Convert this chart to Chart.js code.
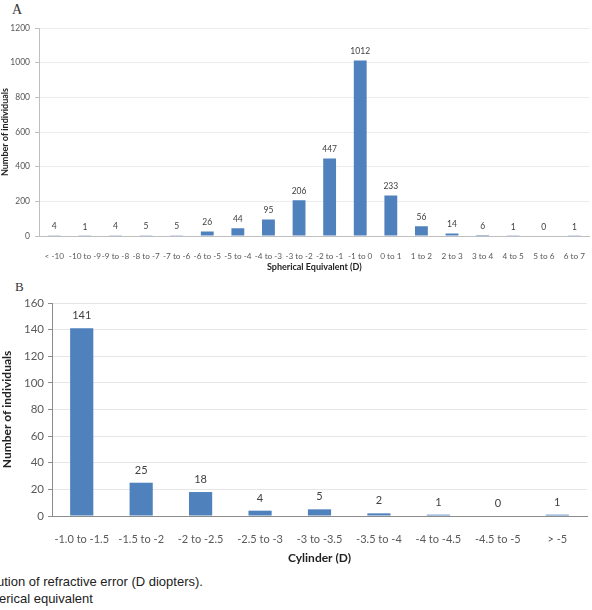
<!DOCTYPE html>
<html>
<head>
<meta charset="utf-8">
<script src="https://cdn.jsdelivr.net/npm/chart.js@4.4.1/dist/chart.umd.min.js"></script>
<style>
  body { margin: 0; background: #fff; width: 592px; height: 610px; overflow: hidden; position: relative; }
  .panel { position: absolute; left: 0; }
  .letter { position: absolute; font-family: "Liberation Serif", "DejaVu Serif", serif; color: #333; }
  .caption { position: absolute; left: -3px; font-family: "Liberation Sans", Arial, sans-serif; font-size: 13px; color: #222; white-space: nowrap; }
</style>
</head>
<body>
<div class="letter" style="left:12px; top:2px; font-size:14px;">A</div>
<canvas id="chartA" class="panel" style="top:0px;" width="592" height="275"></canvas>
<div class="letter" style="left:15px; top:279px; font-size:13px;">B</div>
<canvas id="chartB" class="panel" style="top:280px;" width="592" height="287"></canvas>
<div class="caption" style="top:574px;">ution of refractive error (D diopters).</div>
<div class="caption" style="top:591px; left:-1px;">erical equivalent</div>

<script>
// Panel A - spherical equivalent
const sphereLabels = ['< -10', '-10 to -9', '-9 to -8', '-8 to -7', '-7 to -6', '-6 to -5', '-5 to -4', '-4 to -3', '-3 to -2',
  '-2 to -1', '-1 to 0', '0 to 1', '1 to 2', '2 to 3', '3 to 4', '4 to 5', '5 to 6', '6 to 7'];
const sphereCounts = [4, 1, 4, 5, 5, 26, 44, 95, 206, 447, 1012, 233, 56, 14, 6, 1, 0, 1];

// Panel B - cylinder
const cylLabels = ['-1.0 to -1.5', '-1.5 to -2', '-2 to -2.5', '-2.5 to -3', '-3 to -3.5', '-3.5 to -4', '-4 to -4.5', '-4.5 to -5', '> -5'];
const cylCounts = [141, 25, 18, 4, 5, 2, 1, 0, 1];

const BAR_BLUE = '#4f81bd';
const FONT = 'Lato, Carlito, "Liberation Sans", sans-serif';

// draws the count above each bar
const valueLabels = {
  id: 'valueLabels',
  afterDatasetsDraw(chart, args, opts) {
    const ctx = chart.ctx;
    const meta = chart.getDatasetMeta(0);
    const data = chart.data.datasets[0].data;
    ctx.save();
    ctx.font = opts.size + 'px ' + FONT;
    ctx.fillStyle = '#404040';
    ctx.textAlign = 'center';
    ctx.textBaseline = 'middle';
    meta.data.forEach((bar, i) => {
      ctx.fillText(String(data[i]), bar.x, bar.y - opts.gap);
    });
    ctx.restore();
  }
};

function makeChart(id, labels, values, cfg) {
  return new Chart(document.getElementById(id), {
    type: 'bar',
    data: {
      labels: labels,
      datasets: [{
        data: values,
        backgroundColor: BAR_BLUE,
        borderWidth: 0,
        barPercentage: 0.8,
        categoryPercentage: cfg.barFrac / 0.8
      }]
    },
    options: {
      responsive: false,
      animation: false,
      devicePixelRatio: 1,
      layout: { padding: { top: cfg.padTop, right: cfg.padRight, left: 0, bottom: 0 } },
      plugins: {
        legend: { display: false },
        tooltip: { enabled: false },
        valueLabels: { size: cfg.labelSize, gap: cfg.labelGap }
      },
      scales: {
        x: {
          grid: { display: false },
          border: { display: true, color: cfg.axisColor, width: 1 },
          ticks: {
            autoSkip: false, maxRotation: 0, minRotation: 0,
            padding: cfg.xTickPad,
            color: '#595959',
            font: { family: FONT, size: cfg.tickSize }
          },
          title: {
            display: true,
            text: cfg.xTitle,
            color: '#222',
            padding: { top: 0, bottom: cfg.xTitlePad },
            font: { family: FONT, size: cfg.titleSize, weight: 'bold' }
          },
          afterFit(scale) { scale.height = cfg.xHeight; }
        },
        y: {
          min: 0,
          max: cfg.yMax,
          ticks: {
            stepSize: cfg.yStep,
            padding: cfg.yTickPad,
            color: '#595959',
            font: { family: FONT, size: cfg.yTickSize },
            callback: (v) => String(v)
          },
          grid: { color: cfg.gridColor, tickColor: cfg.axisColor, tickLength: 4 },
          border: { display: true, color: cfg.axisColor, width: 1 },
          title: {
            display: true,
            text: 'Number of individuals',
            color: '#222',
            padding: 0,
            font: { family: FONT, size: cfg.titleSize, weight: 'bold' }
          },
          afterFit(scale) { scale.width = cfg.yWidth; }
        }
      }
    },
    plugins: [valueLabels]
  });
}

makeChart('chartA', sphereLabels, sphereCounts, {
  barFrac: 0.42, padTop: 28, padRight: 0,
  yMax: 1200, yStep: 200, yWidth: 39, xHeight: 39,
  tickSize: 8.2, yTickSize: 8.5, titleSize: 9,
  xTickPad: 7, xTitlePad: 3, yTickPad: 5,
  labelSize: 8.5, labelGap: 9,
  axisColor: '#bfbfbf', gridColor: '#ececec',
  xTitle: 'Spherical Equivalent (D)'
});

makeChart('chartB', cylLabels, cylCounts, {
  barFrac: 0.39, padTop: 23, padRight: 5,
  yMax: 160, yStep: 20, yWidth: 52, xHeight: 51,
  tickSize: 11, yTickSize: 11.5, titleSize: 12,
  xTickPad: 9, xTitlePad: 2, yTickPad: 4,
  labelSize: 11, labelGap: 12.5,
  axisColor: '#8c8c8c', gridColor: '#e6e6e6',
  xTitle: 'Cylinder (D)'
});
</script>
</body>
</html>
